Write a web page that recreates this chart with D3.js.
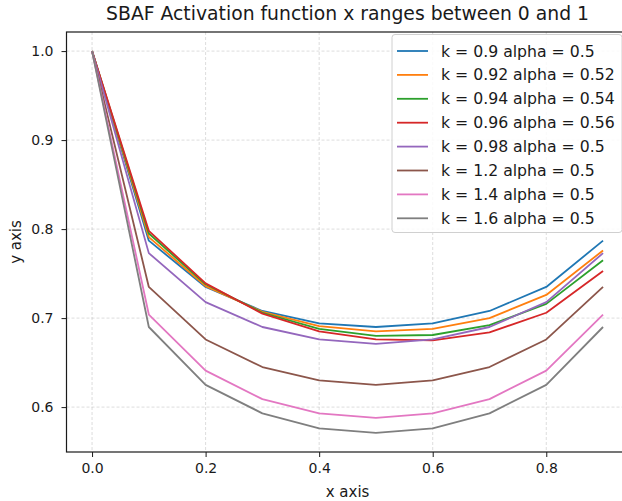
<!DOCTYPE html>
<html>
<head>
  <title>SBAF</title>
  <script src="https://d3js.org/d3.v7.min.js"></script>
  <style>
    body { margin: 0; background: #fff; }
    text { font-family: "DejaVu Sans", sans-serif; fill: #1a1a1a; }
  </style>
</head>
<body>
<script type="text/javascript">
  // x values and one y series per legend entry
  var xs = [0.0, 0.1, 0.2, 0.3, 0.4, 0.5, 0.6, 0.7, 0.8, 0.9];
  var labels = [
    "k = 0.9 alpha = 0.5",
    "k = 0.92 alpha = 0.52",
    "k = 0.94 alpha = 0.54",
    "k = 0.96 alpha = 0.56",
    "k = 0.98 alpha = 0.5",
    "k = 1.2 alpha = 0.5",
    "k = 1.4 alpha = 0.5",
    "k = 1.6 alpha = 0.5"
  ];
  var y1 = [1.0, 0.787, 0.735, 0.708, 0.694, 0.690, 0.694, 0.708, 0.735, 0.787];
  var y2 = [1.0, 0.791, 0.736, 0.707, 0.691, 0.685, 0.688, 0.700, 0.726, 0.776];
  var y3 = [1.0, 0.795, 0.738, 0.706, 0.688, 0.680, 0.681, 0.692, 0.716, 0.765];
  var y4 = [1.0, 0.798, 0.739, 0.705, 0.685, 0.676, 0.675, 0.684, 0.706, 0.753];
  var y5 = [1.0, 0.773, 0.718, 0.690, 0.676, 0.671, 0.676, 0.690, 0.718, 0.773];
  var y6 = [1.0, 0.735, 0.676, 0.645, 0.630, 0.625, 0.630, 0.645, 0.676, 0.735];
  var y7 = [1.0, 0.704, 0.641, 0.609, 0.593, 0.588, 0.593, 0.609, 0.641, 0.704];
  var y8 = [1.0, 0.690, 0.625, 0.593, 0.576, 0.571, 0.576, 0.593, 0.625, 0.690];
  var series = [y1, y2, y3, y4, y5, y6, y7, y8];
  var colors = ["#1f77b4", "#ff7f0e", "#2ca02c", "#d62728", "#9467bd", "#8c564b", "#e377c2", "#7f7f7f"];
  var xTicks = [0.0, 0.2, 0.4, 0.6, 0.8];
  var yTicks = [0.6, 0.7, 0.8, 0.9, 1.0];

  var w = 622, h = 501;
  var mLeft = 66.5, mRight = 628.6, mTop = 32, mBottom = 452;

  var svg = d3.select("body").append("svg")
    .attr("width", w)
    .attr("height", h);

  // matplotlib-style 5% margins
  var xExt = d3.extent(xs);
  var yExt = [d3.min(series, function(s){ return d3.min(s); }), d3.max(series, function(s){ return d3.max(s); })];
  var xPad = (xExt[1] - xExt[0]) * 0.05, yPad = (yExt[1] - yExt[0]) * 0.05;

  var x = d3.scaleLinear().domain([xExt[0] - xPad, xExt[1] + xPad]).range([mLeft, mRight]);
  var y = d3.scaleLinear().domain([yExt[0] - yPad, yExt[1] + yPad]).range([mBottom, mTop]);

  // grid
  var grid = svg.append("g")
    .attr("stroke", "#b0b0b0")
    .attr("stroke-opacity", 0.55)
    .attr("stroke-width", 0.8)
    .attr("stroke-dasharray", "3,2");
  grid.selectAll(".gx").data(xTicks).enter().append("line")
    .attr("x1", function(d){ return x(d); }).attr("x2", function(d){ return x(d); })
    .attr("y1", mTop).attr("y2", mBottom);
  grid.selectAll(".gy").data(yTicks).enter().append("line")
    .attr("y1", function(d){ return y(d); }).attr("y2", function(d){ return y(d); })
    .attr("x1", mLeft).attr("x2", mRight);

  // lines
  var line = d3.line()
    .x(function(d, i){ return x(xs[i]); })
    .y(function(d){ return y(d); });

  svg.selectAll(".series")
    .data(series)
    .enter()
    .append("path")
    .attr("d", line)
    .attr("fill", "none")
    .attr("stroke", function(d, i){ return colors[i]; })
    .attr("stroke-width", 1.8)
    .attr("stroke-linejoin", "round");

  // axes
  var xAxis = d3.axisBottom(x).tickValues(xTicks).tickFormat(d3.format(".1f")).tickSize(5).tickPadding(6);
  var yAxis = d3.axisLeft(y).tickValues(yTicks).tickFormat(d3.format(".1f")).tickSize(5).tickPadding(8);

  var gx = svg.append("g").attr("transform", "translate(0," + mBottom + ")").call(xAxis);
  var gy = svg.append("g").attr("transform", "translate(" + mLeft + ",0)").call(yAxis);
  [gx, gy].forEach(function(g){
    g.select(".domain").remove();
    g.selectAll("line").attr("stroke", "#1a1a1a").attr("stroke-width", 1);
    g.selectAll("text").style("font-size", "14px").attr("fill", "#1a1a1a");
  });

  // spines
  svg.append("rect")
    .attr("x", mLeft).attr("y", mTop)
    .attr("width", mRight - mLeft).attr("height", mBottom - mTop)
    .attr("fill", "none")
    .attr("stroke", "#1a1a1a")
    .attr("stroke-width", 1.2);

  // legend
  var lg = svg.append("g");
  var lx = 392, ly = 34.5, rowH = 23.9;
  lg.append("rect")
    .attr("x", lx).attr("y", ly)
    .attr("width", 230).attr("height", 198)
    .attr("rx", 3)
    .attr("fill", "#fff").attr("fill-opacity", 0.85)
    .attr("stroke", "#d0d0d0");
  var items = lg.selectAll(".item").data(labels).enter().append("g")
    .attr("transform", function(d, i){ return "translate(0," + (51 + i * rowH) + ")"; });
  items.append("line")
    .attr("x1", 397).attr("x2", 428)
    .attr("stroke", function(d, i){ return colors[i]; })
    .attr("stroke-width", 1.8);
  items.append("text")
    .attr("x", 441)
    .attr("dy", "0.35em")
    .style("font-size", "15.7px")
    .text(function(d){ return d; });

  // title and axis labels
  svg.append("text")
    .attr("x", (mLeft + mRight) / 2).attr("y", 20)
    .attr("text-anchor", "middle")
    .style("font-size", "18.8px")
    .text("SBAF Activation function x ranges between 0 and 1");
  svg.append("text")
    .attr("x", (mLeft + mRight) / 2).attr("y", 497)
    .attr("text-anchor", "middle")
    .style("font-size", "15px")
    .text("x axis");
  svg.append("text")
    .attr("transform", "translate(21," + ((mTop + mBottom) / 2) + ") rotate(-90)")
    .attr("text-anchor", "middle")
    .style("font-size", "15px")
    .text("y axis");
</script>
</body>
</html>
